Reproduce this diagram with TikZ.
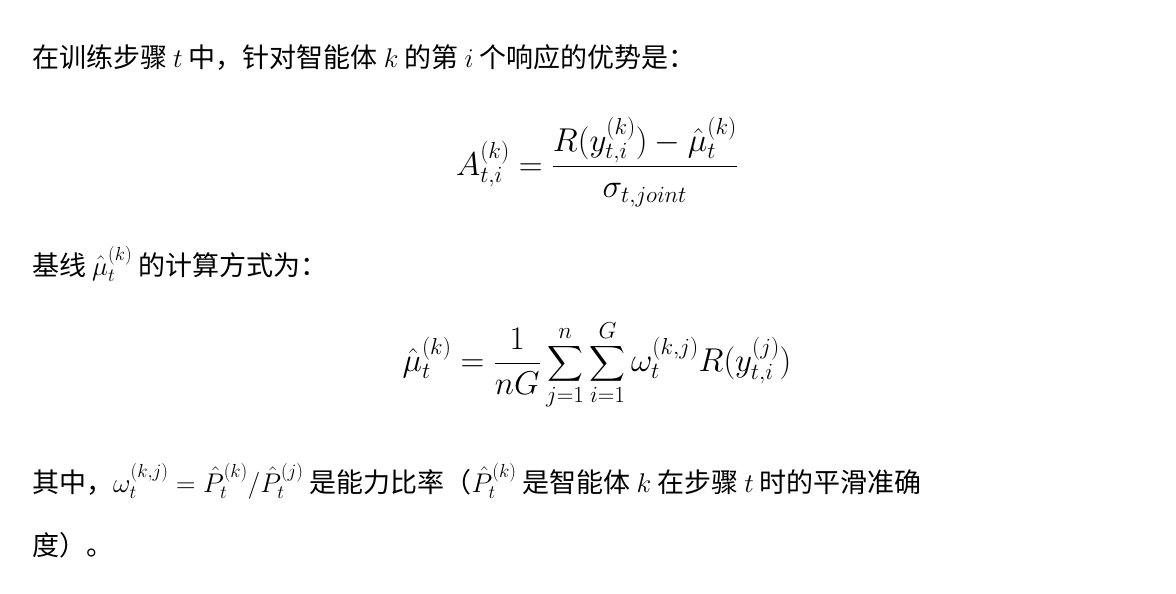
\RequirePackage{fix-cm}
\documentclass[tikz,border=0pt]{standalone}
\usepackage{amsmath}
\usepackage{fontspec}
\newfontfamily\cjk{Noto Sans CJK SC}
\begin{document}
\begin{tikzpicture}[x=1pt,y=-1pt,
  txt/.style={anchor=base west,inner sep=0pt,font=\cjk\fontsize{27}{34}\selectfont},
  eq/.style={inner sep=0pt,font=\fontsize{33}{42}\selectfont}]
\useasboundingbox[fill=white] (0,0) rectangle (1176,594);
\node[txt] (l1) at (32,68) {在训练步骤 $t$ 中，针对智能体 $k$ 的第 $i$ 个响应的优势是：};
\node[eq] (e1) at (597,162) {$\displaystyle A_{t,i}^{(k)} = \frac{R(y_{t,i}^{(k)}) - \hat{\mu}_t^{(k)}}{\sigma_{t,joint}}$};
\node[txt] (l2) at (32,275) {基线 $\hat{\mu}_t^{(k)}$ 的计算方式为：};
\node[eq] (e2) at (597,365) {$\displaystyle \hat{\mu}_t^{(k)} = \frac{1}{nG}\sum_{j=1}^{n}\sum_{i=1}^{G}\omega_t^{(k,j)} R(y_{t,i}^{(j)})$};
\node[txt] (l3) at (32,492) {其中，$\omega_t^{(k,j)} = \hat{P}_t^{(k)}/\hat{P}_t^{(j)}$ 是能力比率（$\hat{P}_t^{(k)}$ 是智能体 $k$ 在步骤 $t$ 时的平滑准确};
\node[txt] (l4) at (32,555) {度）。};
\end{tikzpicture}
\end{document}
